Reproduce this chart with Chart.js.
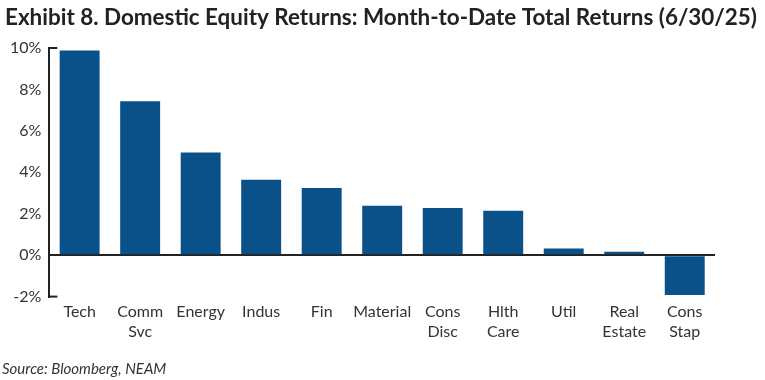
<!DOCTYPE html>
<html><head><meta charset="utf-8">
<script src="https://cdn.jsdelivr.net/npm/chart.js@4.4.1/dist/chart.umd.min.js"></script>
<style>html,body{margin:0;padding:0;background:#fff}#wrap{width:765px;height:380px}</style>
</head><body><div id="wrap"><canvas id="c" width="765" height="380"></canvas></div>
<script>
const categories = [["Tech"],["Comm","Svc"],["Energy"],["Indus"],["Fin"],["Material"],["Cons","Disc"],["Hlth","Care"],["Util"],["Real","Estate"],["Cons","Stap"]];
const returnsPct = [9.88, 7.43, 4.95, 3.64, 3.24, 2.38, 2.28, 2.15, 0.32, 0.17, -1.92];
const yTicks = [-2, 0, 2, 4, 6, 8, 10];
const titleText = "Exhibit 8. Domestic Equity Returns: Month-to-Date Total Returns (6/30/25)";
const sourceText = "Source: Bloomberg, NEAM";

const endTicks = {
  id: 'endTicks',
  afterDraw(chart) {
    const y = chart.scales.y, ctx = chart.ctx, x = y.right;
    ctx.save();
    ctx.strokeStyle = '#222'; ctx.lineWidth = 2;
    [yTicks[0], yTicks[yTicks.length-1]].forEach(v => {
      const py = y.getPixelForValue(v);
      ctx.beginPath(); ctx.moveTo(x, py); ctx.lineTo(x + 8, py); ctx.stroke();
    });
    ctx.restore();
  }
};

const headTitle = {
  id: 'headTitle',
  afterDraw(chart) {
    const ctx = chart.ctx;
    ctx.save();
    ctx.fillStyle = '#222';
    ctx.font = 'bold 23px Lato';
    ctx.textAlign = 'left';
    ctx.textBaseline = 'alphabetic';
    ctx.fillText(titleText, 5, 25, 752);
    ctx.restore();
  }
};

new Chart(document.getElementById('c'), {
  type: 'bar',
  data: { labels: categories, datasets: [{ data: returnsPct, backgroundColor: '#0a5189', barPercentage: 0.66, categoryPercentage: 1.0 }] },
  options: {
    responsive: false, animation: false,
    layout: { padding: { left: 2, right: 50, top: 48, bottom: 0 } },
    plugins: {
      legend: { display: false }, tooltip: { enabled: false },
      title: { display: false },
      subtitle: { display: true, position: 'bottom', text: sourceText, align: 'start', color: '#333', font: { family: 'Lato', size: 15, style: 'italic' }, padding: { top: 13, bottom: 2 } }
    },
    scales: {
      y: {
        min: -2, max: 10,
        afterBuildTicks: s => { s.ticks = yTicks.map(v => ({ value: v })); },
        ticks: { callback: v => v + '%', color: '#333', font: { family: 'Lato', size: 16 }, padding: 8 },
        grid: { drawTicks: false, color: c => c.tick && c.tick.value === 0 ? '#222' : 'rgba(0,0,0,0)', lineWidth: 2 },
        border: { display: true, color: '#222', width: 2 }
      },
      x: {
        ticks: { color: '#333', font: { family: 'Lato', size: 16 }, padding: 6, maxRotation: 0, autoSkip: false },
        grid: { display: false, drawTicks: false },
        border: { display: false }
      }
    }
  },
  plugins: [endTicks, headTitle]
});
</script></body></html>
